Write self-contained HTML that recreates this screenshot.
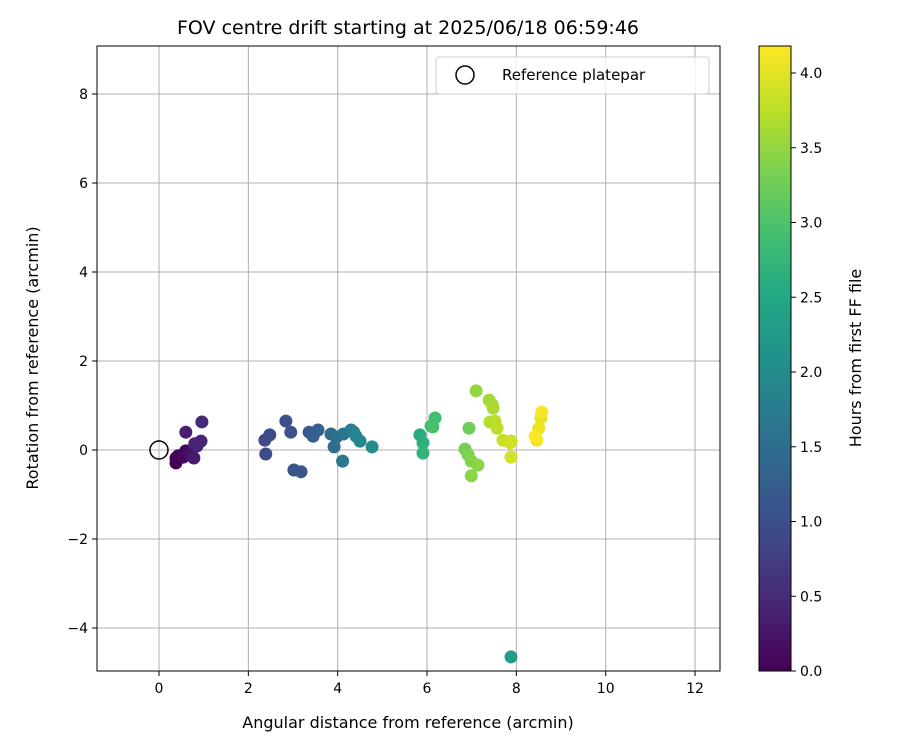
<!DOCTYPE html>
<html><head><meta charset="utf-8"><style>
body{margin:0;background:#fff}
svg{font-family:"DejaVu Sans","Liberation Sans",sans-serif}
</style></head><body>
<svg id="c" width="900" height="750" viewBox="0 0 900 750" xmlns="http://www.w3.org/2000/svg">
<defs><linearGradient id="vir" x1="0" y1="1" x2="0" y2="0">
<stop offset="0" stop-color="#440154"/><stop offset="0.1" stop-color="#482475"/><stop offset="0.2" stop-color="#414487"/><stop offset="0.3" stop-color="#355f8d"/><stop offset="0.4" stop-color="#2a788e"/><stop offset="0.5" stop-color="#21918c"/><stop offset="0.6" stop-color="#22a884"/><stop offset="0.7" stop-color="#44bf70"/><stop offset="0.8" stop-color="#7ad151"/><stop offset="0.9" stop-color="#bddf26"/><stop offset="1" stop-color="#fde725"/>
</linearGradient></defs>
<g id="grid"></g>
<g id="pts"></g>
<rect x="97" y="46" width="623" height="625" fill="none" stroke="#000" stroke-width="1"/>
<g id="ticks"></g>
<text x="408" y="34" font-size="19" text-anchor="middle">FOV centre drift starting at 2025/06/18 06:59:46</text>
<text x="408" y="728" font-size="16" text-anchor="middle">Angular distance from reference (arcmin)</text>
<text transform="translate(38,358) rotate(-90)" font-size="16" text-anchor="middle">Rotation from reference (arcmin)</text>
<g>
<rect x="436" y="57" width="273" height="37" rx="3" fill="#fff" fill-opacity="0.8" stroke="#ccc"/>
<circle cx="465" cy="75" r="9" fill="none" stroke="#000" stroke-width="1.5"/>
<text x="502" y="80" font-size="15">Reference platepar</text>
</g>
<rect x="759" y="46" width="32" height="625" fill="url(#vir)" stroke="#000"/>
<g id="cbt"></g>
<text transform="translate(861,358) rotate(-90)" font-size="16" text-anchor="middle">Hours from first FF file</text>
</svg>
<script>
const xTicks=[0,2,4,6,8,10,12];
const yTicks=[-4,-2,0,2,4,6,8];
const cTicks=[0,0.5,1,1.5,2,2.5,3,3.5,4];
const xs=[0.38,0.38,0.43,0.54,0.6,0.69,0.78,0.6,0.85,0.94,0.96,0.8,
2.37,2.48,2.39,2.84,2.95,3.02,3.18,3.36,3.45,3.56,3.85,3.92,3.97,4.13,4.11,4.3,4.36,4.41,4.5,4.77,
7.88,
5.84,5.91,5.91,6.09,6.18,6.13,
6.94,6.85,6.92,6.99,7.1,6.99,7.14,7.39,7.46,7.48,7.41,7.52,7.57,7.7,7.88,7.88,7.86,
8.55,8.5,8.46,8.57,8.42];
const ys=[-0.29,-0.18,-0.13,-0.16,-0.02,-0.11,-0.18,0.4,0.09,0.2,0.63,0.14,
0.22,0.34,-0.09,0.65,0.4,-0.45,-0.49,0.4,0.31,0.45,0.36,0.07,0.29,0.36,-0.25,0.45,0.4,0.31,0.2,0.07,
-4.65,
0.34,0.16,-0.07,0.54,0.72,0.52,
0.49,0.02,-0.11,-0.25,1.33,-0.58,-0.34,1.12,1.02,0.94,0.63,0.65,0.49,0.22,0.2,-0.16,0.16,
0.72,0.49,0.22,0.85,0.31];
const hours=[0.0,0.02,0.05,0.08,0.1,0.15,0.3,0.35,0.4,0.45,0.5,0.42,
0.9,0.95,0.95,1.0,1.05,1.1,1.12,1.2,1.25,1.3,1.45,1.5,1.5,1.6,1.65,1.75,1.8,1.85,1.9,2.0,
2.3,
2.6,2.65,2.7,2.85,2.9,2.95,
3.25,3.3,3.35,3.4,3.5,3.45,3.45,3.6,3.62,3.65,3.7,3.72,3.75,3.8,3.85,3.9,3.87,
4.0,4.05,4.1,4.15,4.18];
const NS='http://www.w3.org/2000/svg';
const X=v=>159+v*44.67, Y=v=>450-v*44.5, C=v=>671-v*149.5;
const vs=[[68,1,84],[72,36,117],[65,68,135],[53,95,141],[42,120,142],[33,145,140],[34,168,132],[68,191,112],[122,209,81],[189,223,38],[253,231,37]];
function vir(t){t=Math.max(0,Math.min(1,t))*(vs.length-1);const i=Math.min(Math.floor(t),vs.length-2),f=t-i;
return 'rgb('+vs[i].map((a,k)=>Math.round(a+(vs[i+1][k]-a)*f)).join(',')+')';}
function mk(tag,at,parent){const e=document.createElementNS(NS,tag);for(const k in at)e.setAttribute(k,at[k]);document.getElementById(parent).appendChild(e);return e;}
xTicks.forEach(t=>{
const g=mk('line',{x1:X(t),x2:X(t),y1:46,y2:671,stroke:'#b0b0b0','stroke-width':1},'grid');


mk('line',{x1:X(t),x2:X(t),y1:671,y2:676,stroke:'#000'},'ticks');
const l=mk('text',{x:X(t),y:693,'font-size':14,'text-anchor':'middle'},'ticks');l.textContent=t;


});
yTicks.forEach(t=>{
const g=mk('line',{x1:97,x2:720,y1:Y(t),y2:Y(t),stroke:'#b0b0b0','stroke-width':1},'grid');


mk('line',{x1:92,x2:97,y1:Y(t),y2:Y(t),stroke:'#000'},'ticks');
const l=mk('text',{x:88,y:Y(t)+5,'font-size':14,'text-anchor':'end'},'ticks');l.textContent=(t<0?'\u2212'+(-t):t);


});
cTicks.forEach(t=>{
mk('line',{x1:791,x2:796,y1:C(t),y2:C(t),stroke:'#000'},'cbt');
const l=mk('text',{x:800,y:C(t)+5,'font-size':14},'cbt');l.textContent=t.toFixed(1);


});
const ref=mk('circle',{cx:X(0),cy:Y(0),r:9,fill:'none',stroke:'#000','stroke-width':1.5},'pts');


xs.forEach((x,i)=>{
const p=mk('circle',{cx:X(x),cy:Y(ys[i]),r:6.5,fill:vir(hours[i]/4.18)},'pts');


});
</script>
</body></html>
